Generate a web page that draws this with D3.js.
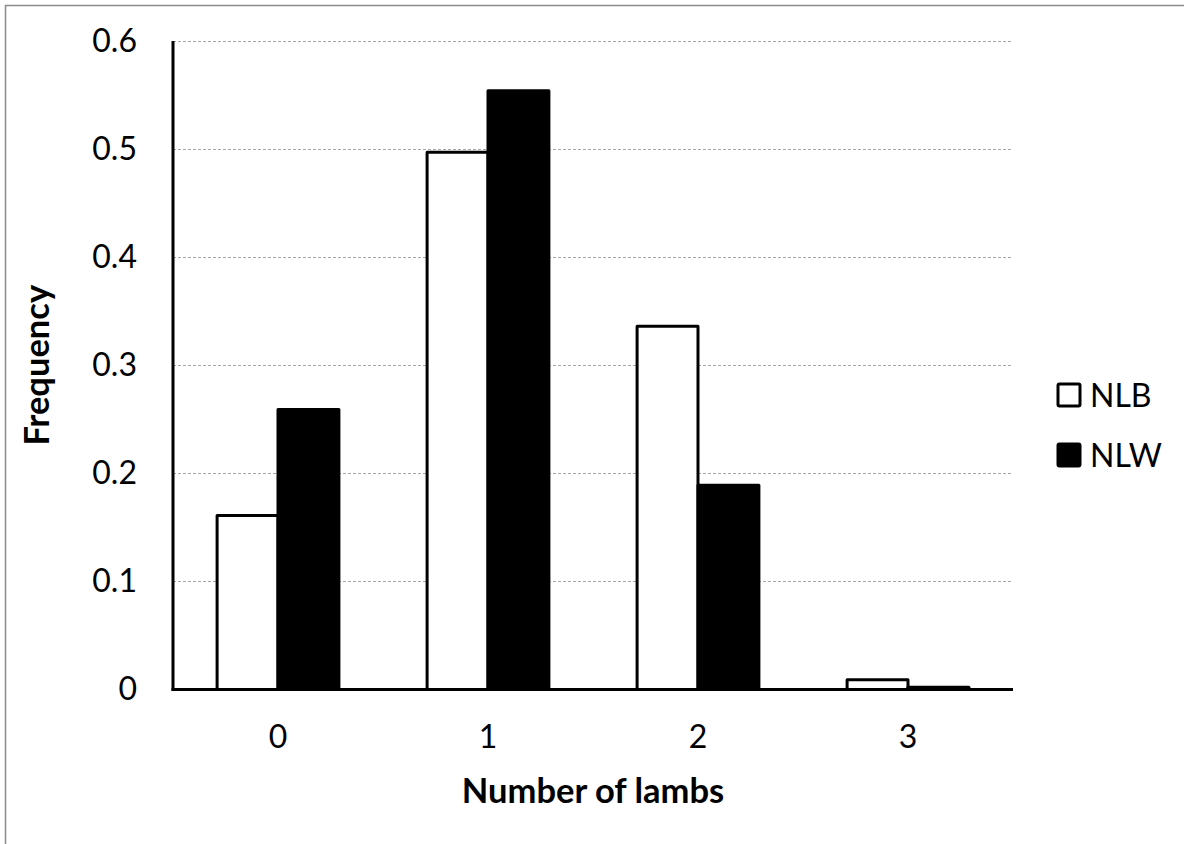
<!DOCTYPE html>
<html>
<head>
<meta charset="utf-8">
<script src="https://cdn.jsdelivr.net/npm/d3@7/dist/d3.min.js"></script>
<style>
  html, body { margin: 0; padding: 0; background: #fff; }
  svg { display: block; }
  text { font-family: Lato, "Open Sans", sans-serif; fill: #000; }
</style>
</head>
<body>
<svg id="chart" width="1184" height="844"></svg>
<script>
const categories = ["0", "1", "2", "3"];
const seriesNames = ["NLB", "NLW"];
const nlb = [0.161, 0.497, 0.336, 0.009];
const nlw = [0.259, 0.554, 0.189, 0.002];
const yTicks = [0, 0.1, 0.2, 0.3, 0.4, 0.5, 0.6];
const yTickLabels = ["0", "0.1", "0.2", "0.3", "0.4", "0.5", "0.6"];
const xTitle = "Number of lambs";
const yTitle = "Frequency";

(function () {
const svg = d3.select("#chart");
const pLeft = 173, pRight = 1013, pTop = 41, pBottom = 689.5;

// outer frame
svg.append("rect").attr("x", 5.5).attr("y", 5.5).attr("width", 1300).attr("height", 1000)
  .attr("fill", "none").attr("stroke", "#8c8c8c").attr("stroke-width", 1.5);

const x0 = d3.scaleBand().domain(categories).range([pLeft, pRight]).paddingInner(0.42).paddingOuter(0.21);
const x1 = d3.scaleBand().domain(seriesNames).range([0, x0.bandwidth()]);
const y = d3.scaleLinear().domain([0, 0.6]).range([pBottom, pTop]);

// gridlines
svg.append("g").selectAll("line").data(yTicks.filter(d => d > 0)).join("line")
  .attr("x1", pLeft).attr("x2", pRight)
  .attr("y1", d => Math.round(y(d)) + 0.5).attr("y2", d => Math.round(y(d)) + 0.5)
  .attr("stroke", "#a6a6a6").attr("stroke-width", 1).attr("stroke-dasharray", "3,2");

// y axis
const yAxis = d3.axisLeft(y).tickValues(yTicks).tickFormat((d, i) => yTickLabels[i]).tickSize(0).tickPadding(36);
const gy = svg.append("g").attr("transform", `translate(${pLeft},0)`).call(yAxis);
gy.select(".domain").remove();
gy.selectAll("text").attr("font-size", 32).attr("font-family", "Lato, sans-serif").attr("fill", "#000");

// bars
const data = categories.map((c, i) => ({ c, vals: [
  { s: "NLB", v: nlb[i] }, { s: "NLW", v: nlw[i] }
]}));
const groups = svg.append("g").selectAll("g").data(data).join("g")
  .attr("transform", d => `translate(${x0(d.c)},0)`);
groups.selectAll("rect").data(d => d.vals).join("rect")
  .attr("x", d => x1(d.s))
  .attr("y", d => y(d.v))
  .attr("width", x1.bandwidth())
  .attr("height", d => y(0) - y(d.v))
  .attr("fill", d => d.s === "NLB" ? "#fff" : "#000")
  .attr("stroke", "#000").attr("stroke-width", 3).attr("stroke-linejoin", "round");

// axis lines
svg.append("line").attr("x1", pLeft).attr("x2", pLeft).attr("y1", pTop).attr("y2", pBottom + 1.5)
  .attr("stroke", "#000").attr("stroke-width", 3);
svg.append("line").attr("x1", pLeft - 1.5).attr("x2", pRight).attr("y1", pBottom).attr("y2", pBottom)
  .attr("stroke", "#000").attr("stroke-width", 3);

// x axis labels
const xAxis = d3.axisBottom(x0).tickSize(0).tickPadding(36);
const gx = svg.append("g").attr("transform", `translate(0,${pBottom})`).call(xAxis);
gx.select(".domain").remove();
gx.selectAll("text").attr("font-size", 32).attr("font-family", "Lato, sans-serif").attr("fill", "#000");

// axis titles
svg.append("text").attr("x", (pLeft + pRight) / 2).attr("y", 803).attr("text-anchor", "middle")
  .attr("font-size", 34.5).attr("font-weight", "bold").text(xTitle);
svg.append("text").attr("transform", `translate(49,${(pTop + pBottom) / 2}) rotate(-90)`)
  .attr("text-anchor", "middle").attr("font-size", 34.5).attr("font-weight", "bold").text(yTitle);

// legend
const legend = svg.append("g").selectAll("g").data(seriesNames).join("g")
  .attr("transform", (d, i) => `translate(1058,${384 + i * 60})`);
legend.append("rect").attr("width", 22).attr("height", 22).attr("rx", 1.5)
  .attr("fill", d => d === "NLB" ? "#fff" : "#000").attr("stroke", "#000").attr("stroke-width", 3);
legend.append("text").attr("x", 32).attr("y", 23).attr("font-size", 32).text(d => d);
})();
</script>
</body>
</html>
